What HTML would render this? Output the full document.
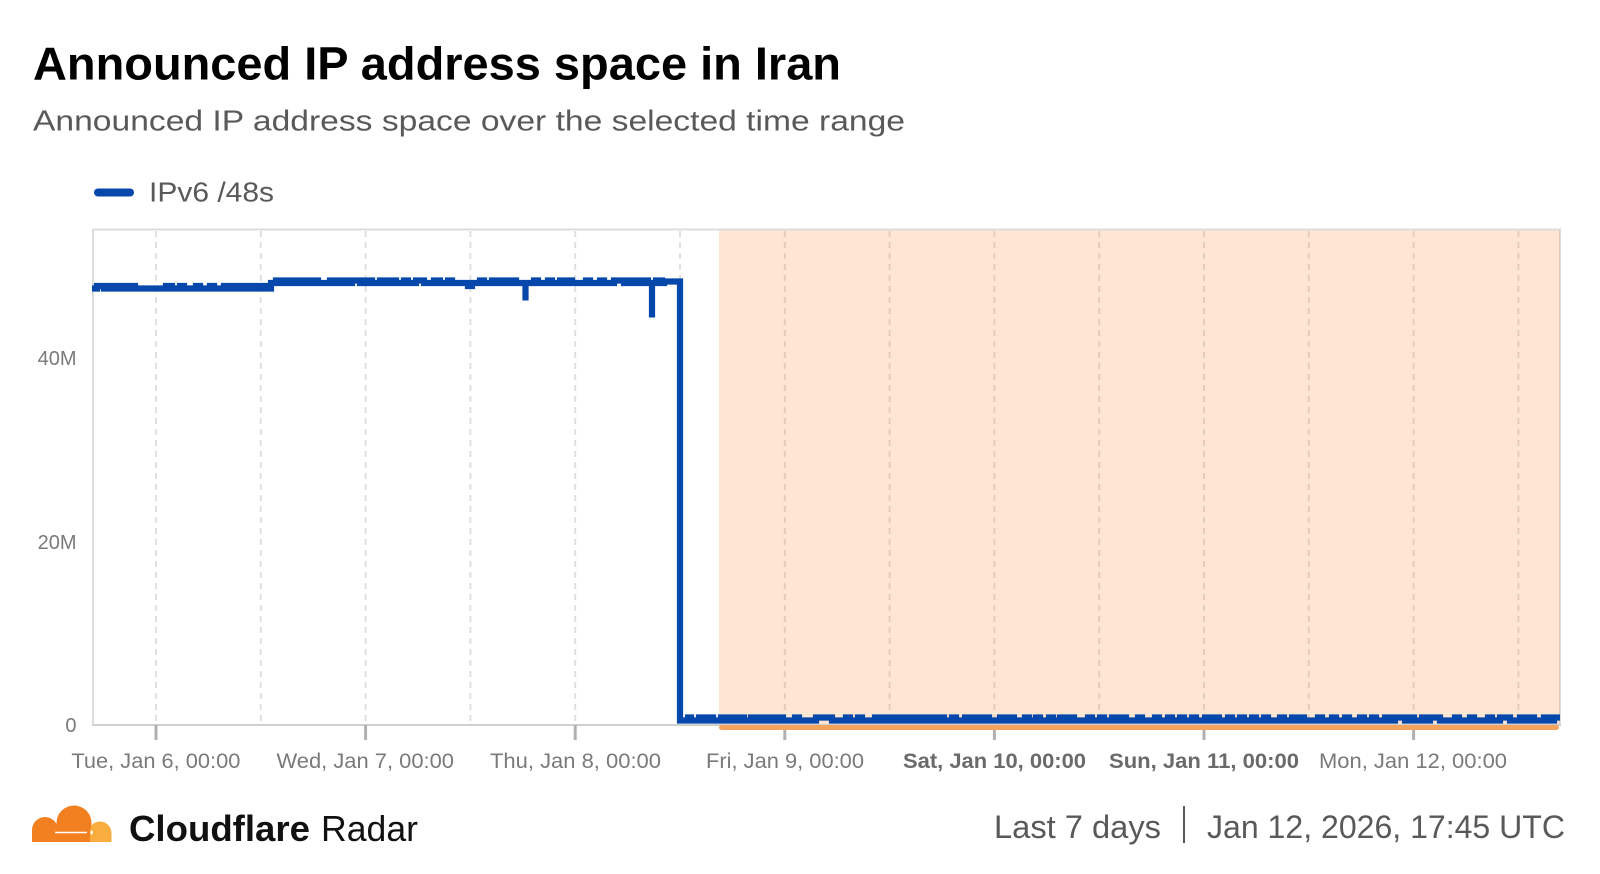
<!DOCTYPE html>
<html>
<head>
<meta charset="utf-8">
<style>
  html, body { margin: 0; padding: 0; background: #ffffff; }
  body { width: 1600px; height: 874px; overflow: hidden; }
  svg { display: block; }
  text { font-family: "Liberation Sans", "DejaVu Sans", sans-serif; }
</style>
</head>
<body>
<svg width="1600" height="874" viewBox="0 0 1600 874" xmlns="http://www.w3.org/2000/svg">
  <rect x="0" y="0" width="1600" height="874" fill="#ffffff"/>

  <!-- Title & subtitle -->
  <text x="33" y="79.5" font-size="46" font-weight="bold" fill="#000000" textLength="808" lengthAdjust="spacingAndGlyphs">Announced IP address space in Iran</text>
  <text x="33" y="130.5" font-size="29" fill="#595959" textLength="872" lengthAdjust="spacingAndGlyphs">Announced IP address space over the selected time range</text>

  <!-- Legend -->
  <line x1="98" y1="192.5" x2="130" y2="192.5" stroke="#0647AB" stroke-width="8" stroke-linecap="round"/>
  <text x="149" y="201.5" font-size="28" fill="#595959" textLength="125" lengthAdjust="spacingAndGlyphs">IPv6 /48s</text>

  <!-- Gridlines -->
  <g stroke="#e0e0e0" stroke-width="2" stroke-dasharray="6 5">
    <line x1="156" y1="231" x2="156" y2="724"/>
    <line x1="260.8" y1="231" x2="260.8" y2="724"/>
    <line x1="365.6" y1="231" x2="365.6" y2="724"/>
    <line x1="470.4" y1="231" x2="470.4" y2="724"/>
    <line x1="575.2" y1="231" x2="575.2" y2="724"/>
    <line x1="680" y1="231" x2="680" y2="724"/>
    <line x1="784.8" y1="231" x2="784.8" y2="724"/>
    <line x1="889.6" y1="231" x2="889.6" y2="724"/>
    <line x1="994.4" y1="231" x2="994.4" y2="724"/>
    <line x1="1099.2" y1="231" x2="1099.2" y2="724"/>
    <line x1="1204" y1="231" x2="1204" y2="724"/>
    <line x1="1308.8" y1="231" x2="1308.8" y2="724"/>
    <line x1="1413.6" y1="231" x2="1413.6" y2="724"/>
    <line x1="1518.4" y1="231" x2="1518.4" y2="724"/>
  </g>

  <!-- Plot border -->
  <g stroke="#dcdcdc" stroke-width="2" fill="none">
    <line x1="92" y1="229.5" x2="1561" y2="229.5"/>
    <line x1="93" y1="229" x2="93" y2="725"/>
    <line x1="1560" y1="229" x2="1560" y2="725"/>
  </g>

  <!-- Shaded region -->
  <rect x="719" y="230.5" width="841" height="494" fill="#F6821F" fill-opacity="0.2"/>

  <!-- X axis -->
  <line x1="92" y1="725" x2="1561" y2="725" stroke="#cfcfcf" stroke-width="2"/>
  <g stroke="#b0b0b0" stroke-width="3">
    <line x1="156" y1="725" x2="156" y2="740"/>
    <line x1="365.6" y1="725" x2="365.6" y2="740"/>
    <line x1="575.2" y1="725" x2="575.2" y2="740"/>
    <line x1="784.8" y1="725" x2="784.8" y2="740"/>
    <line x1="994.4" y1="725" x2="994.4" y2="740"/>
    <line x1="1204" y1="725" x2="1204" y2="740"/>
    <line x1="1413.6" y1="725" x2="1413.6" y2="740"/>
  </g>

  <!-- Series -->
  <path fill="none" stroke="#0647AB" stroke-width="6.2" stroke-linejoin="miter" stroke-linecap="butt"
    d="M92,288.5 H97 V286 H104 V288.5 H109 V286 H115 V288.5 H121 V286 H126 V288.5 H129 V286 H135 V288.5 H166 V286 H172 V288.5 H180 V286 H184 V288.5 H196 V286 H200 V288.5 H210 V286 H214 V288.5 H224 V286 H230 V288.5 H234 V286 H238 V288.5 H244 V286 H248 V288.5 H253 V286 H257 V288.5 H262 V286 H266 V288.5 H271 V283
    H276 V280.5 H281 V283 H286 V280.5 H290 V283 H295 V280.5 H300 V283 H304 V280.5 H309 V283 H313 V280.5 H318 V283 H330 V280.5 H334 V283 H340 V280.5 H346 V283 H352 V280.5 H360 V283 H366 V280.5 H372 V283 H380 V280.5 H386 V283 H392 V280.5 H396 V283 H404 V280.5 H408 V283 H416 V280.5 H424 V283 H434 V280.5 H440 V283 H448 V280.5 H452 V283 H468 V286 H472 V283 H480 V280.5 H484 V283 H492 V280.5 H497 V283 H502 V280.5 H506 V283 H512 V280.5 H516 V283 H525.5 V300.5 V283 H534 V280.5 H538 V283 H548 V280.5 H552 V283 H560 V280.5 H564 V283 H568 V280.5 H572 V283 H586 V280.5 H590 V283 H600 V280.5 H604 V283 H614 V280.5 H624 V283 H628 V280.5 H632 V283 H636 V280.5 H640 V283 H644 V280.5 H648 V283 H652 V317.5 V283 H656 V280.5 H662 V283 H664 V281.5 H680 V720.5
    H688 V717.5 H691 V720.5 H699 V717.5 H703 V720.5 H709 V717.5 H713 V720.5 H721 V717.5 H725 V720.5 H729 V717.5 H735 V720.5 H740 V717.5 H744 V720.5 H751 V717.5 H755 V720.5 H760 V717.5 H764 V720.5 H770 V717.5 H774 V720.5 H779 V717.5 H783 V720.5 H795 V717.5 H799 V720.5 H816 V717.5 H832 V720.5 H846 V717.5 H850 V720.5 H858 V717.5 H862 V720.5 H875 V717.5 H879 V720.5 H885 V717.5 H891 V720.5 H895 V717.5 H899 V720.5 H904 V717.5 H908 V720.5 H912 V717.5 H916 V720.5 H922 V717.5 H926 V720.5 H930 V717.5 H934 V720.5 H940 V717.5 H944 V720.5 H952 V717.5 H956 V720.5 H965 V717.5 H969 V720.5 H975 V717.5 H979 V720.5 H985 V717.5 H989 V720.5 H1000 V717.5 H1004 V720.5 H1010 V717.5 H1014 V720.5 H1025 V717.5 H1029 V720.5 H1036 V717.5 H1040 V720.5 H1049 V717.5 H1053 V720.5 H1060 V717.5 H1064 V720.5 H1070 V717.5 H1074 V720.5 H1088 V717.5 H1092 V720.5 H1100 V717.5 H1104 V720.5 H1112 V717.5 H1116 V720.5 H1122 V717.5 H1126 V720.5 H1138 V717.5 H1142 V720.5 H1155 V717.5 H1159 V720.5 H1168 V717.5 H1172 V720.5 H1180 V717.5 H1184 V720.5 H1192 V717.5 H1196 V720.5 H1205 V717.5 H1209 V720.5 H1215 V717.5 H1219 V720.5 H1228 V717.5 H1232 V720.5 H1240 V717.5 H1244 V720.5 H1252 V717.5 H1256 V720.5 H1264 V717.5 H1268 V720.5 H1280 V717.5 H1284 V720.5 H1292 V717.5 H1296 V720.5 H1300 V717.5 H1304 V720.5 H1318 V717.5 H1322 V720.5 H1332 V717.5 H1336 V720.5 H1345 V717.5 H1349 V720.5 H1360 V717.5 H1364 V720.5 H1372 V717.5 H1376 V720.5 H1385 V717.5 H1389 V720.5 H1395 V717.5 H1405 V720.5 H1410 V717.5 H1414 V720.5 H1422 V717.5 H1426 V720.5 H1430 V717.5 H1440 V720.5 H1455 V717.5 H1459 V720.5 H1470 V717.5 H1474 V720.5 H1488 V717.5 H1492 V720.5 H1500 V717.5 H1510 V720.5 H1520 V717.5 H1524 V720.5 H1530 V717.5 H1534 V720.5 H1544 V717.5 H1548 V720.5 H1554 V717.5 H1560"/>

  <!-- Orange range bar -->
  <rect x="719" y="725" width="840" height="5" rx="2.5" ry="2.5" fill="#F5A25D"/>

  <!-- Y labels -->
  <g font-size="20" fill="#7a7a7a" text-anchor="end">
    <text x="76.5" y="732">0</text>
    <text x="76.5" y="549">20M</text>
    <text x="76.5" y="365">40M</text>
  </g>

  <!-- X labels -->
  <g font-size="21" fill="#7a7a7a">
    <text x="71.4" y="768" textLength="169" lengthAdjust="spacingAndGlyphs">Tue, Jan 6, 00:00</text>
    <text x="276.5" y="768" textLength="177.5" lengthAdjust="spacingAndGlyphs">Wed, Jan 7, 00:00</text>
    <text x="490" y="768" textLength="171" lengthAdjust="spacingAndGlyphs">Thu, Jan 8, 00:00</text>
    <text x="706" y="768" textLength="158" lengthAdjust="spacingAndGlyphs">Fri, Jan 9, 00:00</text>
    <text x="903" y="768" font-weight="bold" fill="#6a6a6a" textLength="183" lengthAdjust="spacingAndGlyphs">Sat, Jan 10, 00:00</text>
    <text x="1109" y="768" font-weight="bold" fill="#6a6a6a" textLength="190" lengthAdjust="spacingAndGlyphs">Sun, Jan 11, 00:00</text>
    <text x="1319" y="768" textLength="188" lengthAdjust="spacingAndGlyphs">Mon, Jan 12, 00:00</text>
  </g>

  <!-- Footer logo -->
  <defs>
    <clipPath id="logoClip"><rect x="28" y="800" width="90" height="42"/></clipPath>
  </defs>
  <g clip-path="url(#logoClip)">
    <circle cx="100" cy="833" r="11.5" fill="#FAAD3F"/>
    <rect x="88.5" y="833" width="23" height="10" fill="#FAAD3F"/>
    <circle cx="74" cy="823" r="17.5" fill="#F38020"/>
    <circle cx="45" cy="830" r="13" fill="#F38020"/>
    <rect x="32" y="830" width="58" height="13" fill="#F38020"/>
    <line x1="55" y1="832.5" x2="87" y2="832.5" stroke="#ffffff" stroke-width="1.6"/>
    <path d="M90,832.5 L92,830 L93,832.5 L92,835 Z" fill="#ffffff"/>
  </g>
  <text x="129" y="841" font-size="36" font-weight="bold" fill="#111111" textLength="181" lengthAdjust="spacingAndGlyphs">Cloudflare</text>
  <text x="321" y="841" font-size="36" fill="#111111" textLength="97" lengthAdjust="spacingAndGlyphs">Radar</text>

  <!-- Footer right -->
  <text x="994" y="838" font-size="32" fill="#595959" textLength="167" lengthAdjust="spacingAndGlyphs">Last 7 days</text>
  <line x1="1184" y1="806" x2="1184" y2="843" stroke="#595959" stroke-width="2"/>
  <text x="1207" y="838" font-size="32" fill="#595959" textLength="358" lengthAdjust="spacingAndGlyphs">Jan 12, 2026, 17:45 UTC</text>
</svg>
</body>
</html>
